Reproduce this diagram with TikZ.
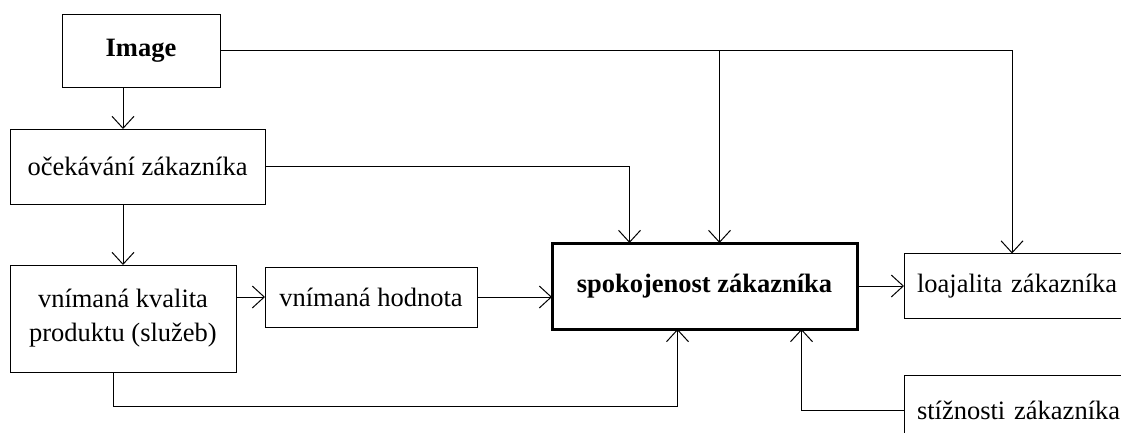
\documentclass[tikz,border=0pt]{standalone}
\usepackage{fontspec}
\setmainfont{Liberation Serif}
\usepackage{tikz}
\usetikzlibrary{positioning,arrows.meta}

\tikzset{
  box/.style={draw, line width=1pt, inner sep=0pt, outer sep=0pt,
    font=\fontsize{26.5}{34}\selectfont},
  mainbox/.style={box, line width=3pt},
  sidebox/.style={box, text width=214pt, inner xsep=13pt, align=left},
  arr/.style={-{Straight Barb[length=12pt,width=22pt]}, line width=1pt}
}

\begin{document}
\begin{tikzpicture}[x=1pt, y=-1pt]

  \useasboundingbox[fill=white] (0,0) rectangle (1121,432);

  % Define nodes
  \node[box, minimum width=158pt, minimum height=73pt] (image) at (141,50.5) {\textbf{Image}};
  \node[box, minimum width=255pt, minimum height=75pt] (ocek) at (137.5,166.5) {očekávání zákazníka};
  \node[box, below=61pt of ocek.south west, anchor=north west,
        minimum width=226pt, minimum height=107pt, align=center] (kval) {vnímaná kvalita\\produktu (služeb)};
  \node[box, right=29pt of kval.north east, anchor=north west, yshift=-2pt,
        minimum width=212pt, minimum height=60pt] (hod) {vnímaná hodnota};
  \node[mainbox, minimum width=305pt, minimum height=86pt] (spok) at (704.5,286) {\textbf{spokojenost zákazníka}};
  \node[sidebox, right=47pt of spok.east, minimum height=65pt] (loaj) {loajalita zákazníka};
  \node[sidebox, below=57pt of loaj.south west, anchor=north west, minimum height=70pt] (stiz) {stížnosti zákazníka};

  % Define helper points
  \coordinate (mid) at ([xshift=15pt]spok.north);

  % Connectors
  \draw[arr] (image.south -| kval) -- (ocek.north -| kval);
  \draw[arr] (ocek.south -| kval) -- (kval.north);
  \draw[arr] (kval.east |- hod.west) -- (hod.west);
  \draw[arr] (hod.east) -- (spok.west |- hod.east);
  \draw[arr] (spok.east) -- (loaj.west |- spok.east);
  \draw[arr] (image.east) -| ([xshift=-12pt]loaj.north);
  \draw[arr] (image.east -| mid) -- (mid);
  \draw[arr] (ocek.east) -| ([xshift=-75pt]spok.north);
  \draw[arr] ([xshift=-10pt]kval.south) -- ++(0,34) -| ([xshift=-27pt]spok.south);
  \draw[arr] (stiz.west) -| ([xshift=97pt]spok.south);

\end{tikzpicture}
\end{document}
